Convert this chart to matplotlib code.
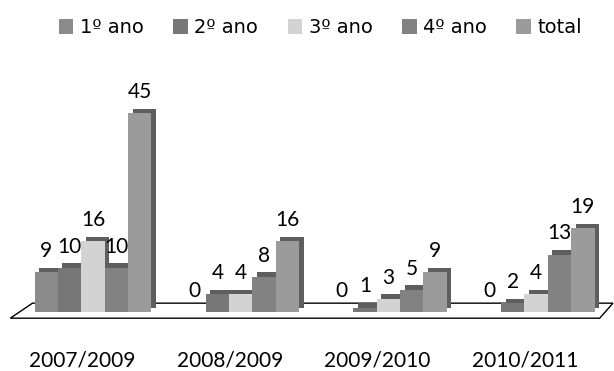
import numpy as np
import matplotlib.pyplot as plt
import matplotlib.patheffects as pe
from matplotlib.patches import Patch
from matplotlib.transforms import ScaledTranslation

plt.rcParams['font.family'] = ['Lato', 'DejaVu Sans']

periods = ['2007/2009', '2008/2009', '2009/2010', '2010/2011']
series = ['1º ano', '2º ano', '3º ano', '4º ano', 'total']
ano1 = [9, 0, 0, 0]
ano2 = [10, 4, 1, 2]
ano3 = [16, 4, 3, 4]
ano4 = [10, 8, 5, 13]
total = [45, 16, 9, 19]
colors = ['#8a8a8a', '#777777', '#d3d3d3', '#828282', '#9b9b9b']

values = [ano1, ano2, ano3, ano4, total]

fig = plt.figure(figsize=(6.14, 3.71), dpi=100)
ax = fig.add_axes([0, 0, 1, 1])
ax.set_xlim(-0.630, 3.527)
ax.set_ylim(-13.35, 70.6)
ax.axis('off')

x = np.arange(len(periods))
w = 0.158

# floor of the 3d chart
fl = [x[0] - 0.56, x[-1] + 0.43, x[-1] + 0.52, x[0] - 0.41]
fy = [-1.4, -1.4, 2.0, 2.0]
ax.fill(fl, fy, facecolor='white', edgecolor='black', lw=1.0, zorder=1)

shadow = [pe.SimplePatchShadow(offset=(3.2, 3.2), shadow_rgbFace='#5e5e5e', alpha=1.0),
          pe.Normal()]

for i, (vals, c) in enumerate(zip(values, colors)):
    bars = ax.bar(x + (i - 2) * w, vals, w, color=c, edgecolor='none', zorder=2 + i)
    for b in bars:
        b.set_path_effects(shadow)
    for xi, v in zip(x + (i - 2) * w, vals):
        ax.annotate(str(v), (xi, v), xytext=(0, 8), textcoords='offset points',
                    ha='center', va='bottom', fontsize=15, zorder=20)

off = ScaledTranslation(-11 / 100, 0, fig.dpi_scale_trans)
for xi, p in zip(x, periods):
    ax.text(xi, -10.9, p, ha='center', va='center', fontsize=15,
            transform=ax.transData + off)

handles = [Patch(facecolor=c, edgecolor='none') for c in colors]
fig.legend(handles=handles, labels=series, loc='center', bbox_to_anchor=(0.522, 0.925),
           ncol=5, frameon=False, prop={'family': 'DejaVu Sans', 'size': 14},
           handlelength=0.75, handleheight=0.75, handletextpad=0.35, columnspacing=1.5)

fig.savefig('out.png', dpi=100)
